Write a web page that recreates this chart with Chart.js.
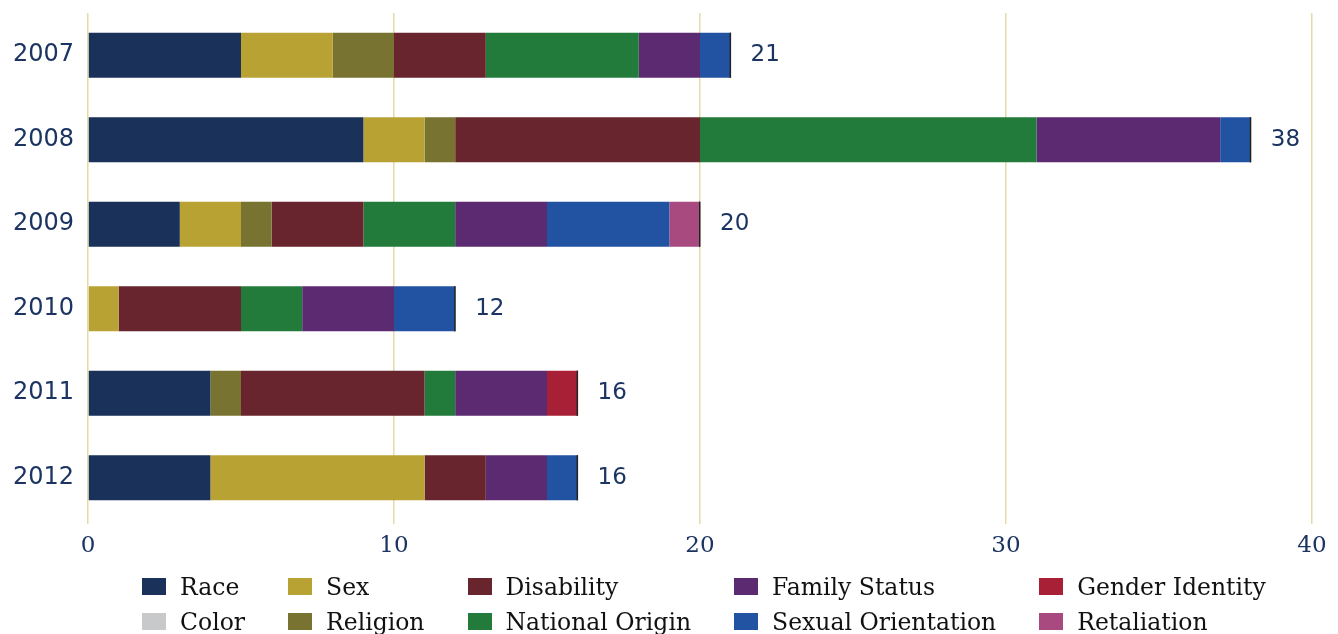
<!DOCTYPE html>
<html>
<head>
<meta charset="utf-8">
<script src="https://cdn.jsdelivr.net/npm/chart.js@4"></script>
<style>
  html, body { margin: 0; padding: 0; background: #fff; }
  #wrap { position: relative; width: 1338px; height: 634px; }
  #legend {
    position: absolute; left: 142px; top: 569px;
    display: grid; grid-template-rows: 35px 35px; grid-auto-flow: column;
    column-gap: 43px;
    font-family: "DejaVu Serif", serif; font-size: 23.5px; color: #111;
  }
  #legend .item { display: flex; align-items: center; white-space: nowrap; }
  #legend .box { width: 24px; height: 17px; margin-right: 14px; }
</style>
</head>
<body>
<div id="wrap">
  <canvas id="bar1" width="1338" height="634"></canvas>
  <div id="legend"></div>
</div>
<script>
// years on the y axis, complaint counts per basis
const years = ["2007", "2008", "2009", "2010", "2011", "2012"];

const race = [5, 9, 3, 0, 4, 4];
const color = [0, 0, 0, 0, 0, 0];
const sex = [3, 2, 2, 1, 0, 7];
const religion = [2, 1, 1, 0, 1, 0];
const disability = [3, 8, 3, 4, 6, 2];
const nationalOrigin = [5, 11, 3, 2, 1, 0];
const familyStatus = [2, 6, 3, 3, 3, 2];
const sexualOrientation = [1, 1, 4, 2, 0, 1];
const genderIdentity = [0, 0, 0, 0, 1, 0];
const retaliation = [0, 0, 1, 0, 0, 0];

const xTicks = [0, 10, 20, 30, 40];

const navy = '#1b3461';

const datasets = [
    { label: 'Race', data: race, backgroundColor: '#1a3159' },
    { label: 'Color', data: color, backgroundColor: '#c8c9cb' },
    { label: 'Sex', data: sex, backgroundColor: '#b8a233' },
    { label: 'Religion', data: religion, backgroundColor: '#787330' },
    { label: 'Disability', data: disability, backgroundColor: '#69252d' },
    { label: 'National Origin', data: nationalOrigin, backgroundColor: '#227a3b' },
    { label: 'Family Status', data: familyStatus, backgroundColor: '#5c2a70' },
    { label: 'Sexual Orientation', data: sexualOrientation, backgroundColor: '#2253a3' },
    { label: 'Gender Identity', data: genderIdentity, backgroundColor: '#a82035' },
    { label: 'Retaliation', data: retaliation, backgroundColor: '#a84a80' },
];

// totals at the end of each bar
const totalsPlugin = {
    id: 'totals',
    afterDatasetsDraw(chart) {
        const ctx = chart.ctx;
        const x = chart.scales.x;
        const y = chart.scales.y;
        const meta = chart.getDatasetMeta(0);
        ctx.save();
        years.forEach((yr, i) => {
            let sum = 0;
            datasets.forEach((ds) => { sum += ds.data[i]; });
            const px = x.getPixelForValue(sum);
            const py = y.getPixelForValue(i);
            const h = meta.data[i].height;
            ctx.fillStyle = '#222';
            ctx.fillRect(px - 1, py - h / 2, 1.5, h);
            ctx.fillStyle = navy;
            ctx.font = '23px "DejaVu Sans"';
            ctx.textAlign = 'left';
            ctx.textBaseline = 'middle';
            ctx.fillText(String(sum), px + 20, py);
        });
        ctx.restore();
    }
};

const bar1 = document.getElementById("bar1").getContext("2d");
const myChart1 = new Chart(bar1, {
    type: "bar",
    data: {
        labels: years,
        datasets: datasets.map((ds) => ({
            label: ds.label,
            data: ds.data,
            backgroundColor: ds.backgroundColor,
            borderWidth: 0,
            barPercentage: 0.535,
            categoryPercentage: 1,
        })),
    },
    options: {
        indexAxis: 'y',
        responsive: false,
        animation: false,
        layout: { padding: { left: 0, right: 26, top: 13, bottom: 74 } },
        plugins: {
            legend: { display: false },
            tooltip: { enabled: false },
        },
        scales: {
            x: {
                stacked: true,
                min: 0,
                max: 40,
                afterBuildTicks(scale) {
                    scale.ticks = xTicks.map((v) => ({ value: v }));
                },
                afterFit(scale) { scale.height = 40; },
                border: { display: false },
                grid: { color: '#e6dba6', lineWidth: 1.5, drawTicks: true, tickLength: 4 },
                ticks: {
                    color: navy,
                    padding: 8,
                    font: { family: '"DejaVu Serif"', size: 23 },
                },
            },
            y: {
                stacked: true,
                afterFit(scale) {
                    scale.width = 88;
                    scale.paddingTop = 0;
                    scale.paddingBottom = 0;
                },
                border: { display: false },
                grid: { display: false },
                ticks: {
                    color: navy,
                    padding: 6,
                    font: { family: '"DejaVu Sans"', size: 24 },
                },
            },
        },
    },
    plugins: [totalsPlugin],
});

// legend, laid out in columns like the original
const legendEl = document.getElementById("legend");
datasets.forEach((ds) => {
    const item = document.createElement("div");
    item.className = "item";
    const box = document.createElement("span");
    box.className = "box";
    box.style.background = ds.backgroundColor;
    item.appendChild(box);
    item.appendChild(document.createTextNode(ds.label));
    legendEl.appendChild(item);
});
</script>
</body>
</html>
